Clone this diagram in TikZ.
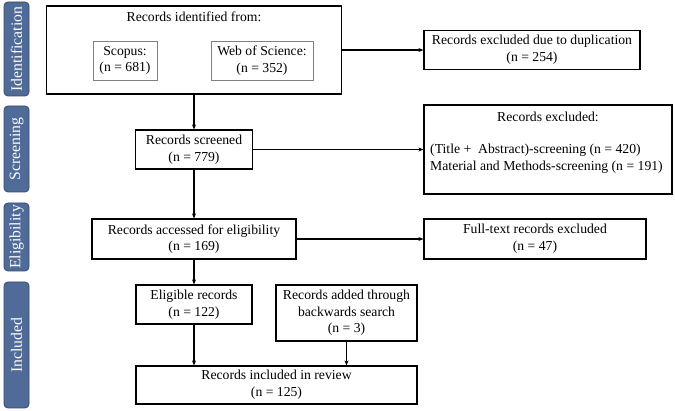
\documentclass[tikz,border=0pt]{standalone}
\usepackage{fontspec}
\setmainfont{Liberation Serif}
\usetikzlibrary{arrows.meta}
\definecolor{phasefill}{RGB}{80,107,152}
\definecolor{phasedraw}{RGB}{52,72,108}

\begin{document}
\begin{tikzpicture}[x=1pt,y=-1pt,
    box/.style={draw=black,line width=1.2pt,fill=white,inner sep=0pt,align=center,
        font=\fontsize{13.7}{16.6}\selectfont},
    srcbox/.style={draw=gray,line width=0.9pt,fill=white,inner sep=0pt,align=center,
        font=\fontsize{13.7}{16.6}\selectfont},
    txt/.style={inner sep=0pt,font=\fontsize{13.7}{16.6}\selectfont},
    phase/.style={draw=phasedraw,fill=phasefill,line width=0.8pt,rounded corners=4pt,
        minimum width=25pt,inner sep=0pt,text=white,font=\fontsize{15.7}{18}\selectfont},
    arr/.style={line width=1.3pt,-{Stealth[length=5pt,width=4pt]}}]
    \useasboundingbox (0,0) rectangle (675,411);

    % phases on the left
    \node[phase,minimum height=94pt] (pid) at (16.5,49) {\rotatebox{90}{Identification}};
    \node[phase,minimum height=86pt] (pscr) at (16.5,149) {\rotatebox{90}{Screening}};
    \node[phase,minimum height=68pt] (pelig) at (16.5,237) {\rotatebox{90}{Eligibility}};
    \node[phase,minimum height=126pt] (pincl) at (16.5,345) {\rotatebox{90}{Included}};

    % identification
    \node[box,minimum width=295pt,minimum height=88pt] (idbox) at (194,50) {};
    \node[txt] (idhead) at (194,17) {Records identified from:};
    \node[srcbox,minimum width=64pt,minimum height=39pt] (scopus) at (125,60.5) {Scopus:\\(n = 681)};
    \node[srcbox,minimum width=102pt,minimum height=39pt] (wos) at (262,60.5) {Web of Science:\\(n = 352)};
    \node[box,minimum width=216pt,minimum height=39pt] (dup) at (532,50) {Records excluded due to duplication\\(n = 254)};

    % screening
    \node[box,minimum width=117pt,minimum height=39pt] (screened) at (194,149.5) {Records screened\\(n = 779)};
    \node[box,minimum width=248pt,minimum height=89pt] (excl) at (548,149.5) {};
    \node[txt] (exclhead) at (548,117) {Records excluded:};
    \node[txt,anchor=west,align=left] (excllist) at (430,158.5)
        {(Title + \ Abstract)-screening (n = 420)\\Material and Methods-screening (n = 191)};

    % eligibility
    \node[box,minimum width=204pt,minimum height=40pt] (accessed) at (194,239) {Records accessed for eligibility\\(n = 169)};
    \node[box,minimum width=222pt,minimum height=40pt] (fulltext) at (535,239) {Full-text records excluded\\(n = 47)};

    % included
    \node[box,minimum width=116pt,minimum height=39pt] (eligible) at (194,304.5) {Eligible records\\(n = 122)};
    \node[box,minimum width=141pt,minimum height=56pt] (added) at (346.5,313) {Records added through\\backwards search\\(n = 3)};
    \node[box,minimum width=281pt,minimum height=38pt] (review) at (276.5,385) {Records included in review\\(n = 125)};

    \draw[arr] (idbox.east) -- (dup.west);
    \draw[arr] (idbox.south) -- (screened.north);
    \draw[arr] (screened.east) -- (excl.west);
    \draw[arr] (screened.south) -- (accessed.north);
    \draw[arr] (accessed.east) -- (fulltext.west);
    \draw[arr] (accessed.south) -- (eligible.north);
    \draw[arr] (eligible.south) -- (eligible.south |- review.north);
    \draw[arr] (added.south) -- (added.south |- review.north);
\end{tikzpicture}
\end{document}
